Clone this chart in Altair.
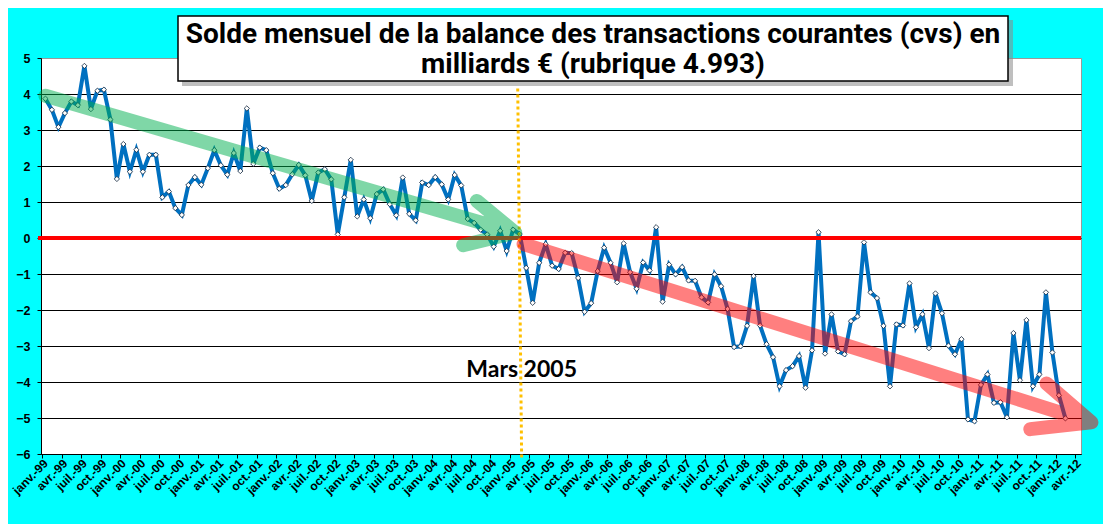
import altair as alt
import pandas as pd

# Monthly balance (bn EUR), Jan 1999 -> Feb 2012
solde = [
    3.87, 3.56, 3.08, 3.47, 3.79, 3.69, 4.78, 3.58, 4.09, 4.12, 3.29, 1.64,
    2.61, 1.84, 2.45, 1.84, 2.31, 2.31, 1.13, 1.29, 0.83, 0.64, 1.47, 1.69,
    1.48, 1.94, 2.44, 2.02, 1.76, 2.36, 1.86, 3.60, 2.06, 2.51, 2.44, 1.80,
    1.37, 1.47, 1.77, 2.03, 1.74, 1.03, 1.82, 1.91, 1.63, 0.10, 1.13, 2.17,
    0.60, 1.07, 0.55, 1.22, 1.35, 0.94, 0.63, 1.68, 0.67, 0.49, 1.54, 1.47,
    1.69, 1.49, 1.07, 1.75, 1.46, 0.53, 0.42, 0.23, 0.10, -0.24, 0.20, -0.36,
    0.23, 0.11, -0.83, -1.80, -0.69, -0.17, -0.77, -0.86, -0.41, -0.42, -1.11, -2.05,
    -1.81, -0.92, -0.27, -0.69, -1.23, -0.15, -0.95, -1.41, -0.68, -0.90, 0.30, -1.77,
    -0.74, -1.01, -0.81, -1.18, -1.19, -1.65, -1.79, -1.01, -1.34, -1.97, -3.03, -3.01,
    -2.44, -1.06, -2.43, -2.95, -3.31, -4.12, -3.67, -3.56, -3.28, -4.16, -3.12, 0.16,
    -3.21, -2.12, -3.15, -3.23, -2.31, -2.18, -0.12, -1.51, -1.67, -2.44, -4.12, -2.40,
    -2.43, -1.26, -2.48, -2.12, -3.06, -1.54, -2.09, -2.99, -3.23, -2.81, -5.04, -5.09,
    -4.08, -3.79, -4.58, -4.56, -4.98, -2.64, -3.95, -2.28, -4.12, -3.79, -1.51, -3.18,
    -4.37, -5.01,
]

tick_labels = []
for yy in ["99", "00", "01", "02", "03", "04", "05", "06", "07", "08", "09", "10", "11"]:
    for m in ["janv.", "avr.", "juil.", "oct."]:
        tick_labels.append(m + "-" + yy)
tick_labels += ["janv.-12", "avr.-12"]

y_ticks = [5, 4, 3, 2, 1, 0, -1, -2, -3, -4, -5, -6]

# annotation arrows (month index, value), drawn as one path each
green_x = [0.0, 72.3, 66.4, 72.3, 64.3]
green_y = [3.95, 0.15, 1.03, 0.15, -0.20]
red_x = [73.6, 161.0, 154.1, 161.0, 151.6]
red_y = [-0.17, -5.12, -4.04, -5.12, -5.31]

# vertical marker (Mars 2005)
mars_x = [72.7]
mars_x2 = [73.3]
mars_y = [4.15]
mars_y2 = [-6.1]

title_lines = ["Solde mensuel de la balance des transactions courantes (cvs) en",
               "milliards € (rubrique 4.993)"]

W, H = 1040, 396

df = pd.DataFrame({"i": list(range(len(solde))), "v": solde})
label_arr = "[" + ",".join("'" + s + "'" for s in tick_labels) + "]"

xscale = alt.Scale(domain=[-0.68, 159.4], nice=False, zero=False)
yscale = alt.Scale(domain=[-6, 5], nice=False, zero=False)

xaxis = alt.Axis(
    values=[3 * k - 0.5 for k in range(len(tick_labels))],
    labelExpr=label_arr + "[round((datum.value + 0.5) / 3)]",
    labelOffset=3.3, labelAngle=-45, labelAlign="right", labelBaseline="middle",
    labelFontSize=12, labelFont="Liberation Sans", labelFontWeight="bold",
    labelColor="black", labelPadding=3, tickSize=4, tickColor="black",
    domainColor="black", grid=False, title=None, labelOverlap=False, labelFlush=False,
)
yaxis = alt.Axis(
    values=y_ticks, labelFontSize=12.5, labelFont="Liberation Sans", labelFontWeight="bold",
    labelColor="black", labelPadding=7, tickSize=4, tickColor="black",
    domainColor="black", grid=True, labelOverlap=False,
    gridColor={"condition": {"test": "datum.value === 5", "value": "#9a9a9a"}, "value": "black"},
    gridWidth=1, title=None,
)


def X(f):
    return alt.X(f, type="quantitative", scale=xscale, axis=xaxis)


def Y(f):
    return alt.Y(f, type="quantitative", scale=yscale, axis=yaxis)


base = alt.Chart(df).encode(x=X("i"), y=Y("v"))

one = pd.DataFrame({"v": [0]})
zero_rule = alt.Chart(one).mark_rule(color="#FF0000", strokeWidth=4).encode(
    y=Y("v"), x=alt.value(-3), x2=alt.value(W)
)

mars_df = pd.DataFrame({"i": mars_x, "i2": mars_x2, "v": mars_y, "v2": mars_y2})
mars_rule = alt.Chart(mars_df).mark_rule(
    color="#FFC000", strokeWidth=3, strokeDash=[3, 3]
).encode(x=X("i"), x2="i2", y=Y("v"), y2="v2")

line = base.mark_line(color="#0070C0", strokeWidth=4)
pts = base.mark_point(shape="diamond", filled=True, fill="white", stroke="#10243C",
                      strokeWidth=0.8, size=28, opacity=1)

g_df = pd.DataFrame({"i": green_x, "v": green_y, "o": list(range(len(green_x)))})
r_df = pd.DataFrame({"i": red_x, "v": red_y, "o": list(range(len(red_x)))})
green_arrow = alt.Chart(g_df).mark_line(
    color="#00B050", strokeWidth=14, opacity=0.5, strokeJoin="round", strokeCap="round"
).encode(x=X("i"), y=Y("v"), order="o:Q")
red_arrow = alt.Chart(r_df).mark_line(
    color="#FF0000", strokeWidth=14, opacity=0.5, strokeJoin="round", strokeCap="round"
).encode(x=X("i"), y=Y("v"), order="o:Q")

mars_txt = alt.Chart(pd.DataFrame({"i": [73.3], "v": [-3.87], "t": ["Mars 2005"]})).mark_text(
    font="Lato", fontWeight="bold", fontSize=23, color="black", align="center",
    baseline="alphabetic"
).encode(x=X("i"), y=Y("v"), text="t:N")

box_df = pd.DataFrame({"a": [0]})
shadow = alt.Chart(box_df).mark_rect(fill="#8a8a8a", opacity=0.55).encode(
    x=alt.value(141), x2=alt.value(972), y=alt.value(-38), y2=alt.value(28)
)
box = alt.Chart(box_df).mark_rect(fill="white", stroke="black", strokeWidth=1.5).encode(
    x=alt.value(137), x2=alt.value(967), y=alt.value(-42), y2=alt.value(23)
)
title_font = dict(font="Roboto", fontWeight="bold", fontSize=28, color="black",
                  align="center", baseline="alphabetic")
title1 = alt.Chart(pd.DataFrame({"t": [title_lines[0]]})).mark_text(**title_font).encode(
    text="t:N", x=alt.value(552), y=alt.value(-15)
)
title2 = alt.Chart(pd.DataFrame({"t": [title_lines[1]]})).mark_text(**title_font).encode(
    text="t:N", x=alt.value(552), y=alt.value(15)
)

chart = alt.layer(
    line, pts, zero_rule, mars_rule, green_arrow, red_arrow, mars_txt, shadow, box, title1, title2
).properties(
    width=W, height=H,
    autosize=alt.AutoSizeParams(type="none"),
    padding={"left": 33, "top": 50, "right": 22, "bottom": 70},
    background="#00FFFF",
).configure_view(
    fill="white", stroke="#9a9a9a", strokeWidth=1
)

chart.save("out.html", embed_options={"renderer": "svg", "actions": False})
